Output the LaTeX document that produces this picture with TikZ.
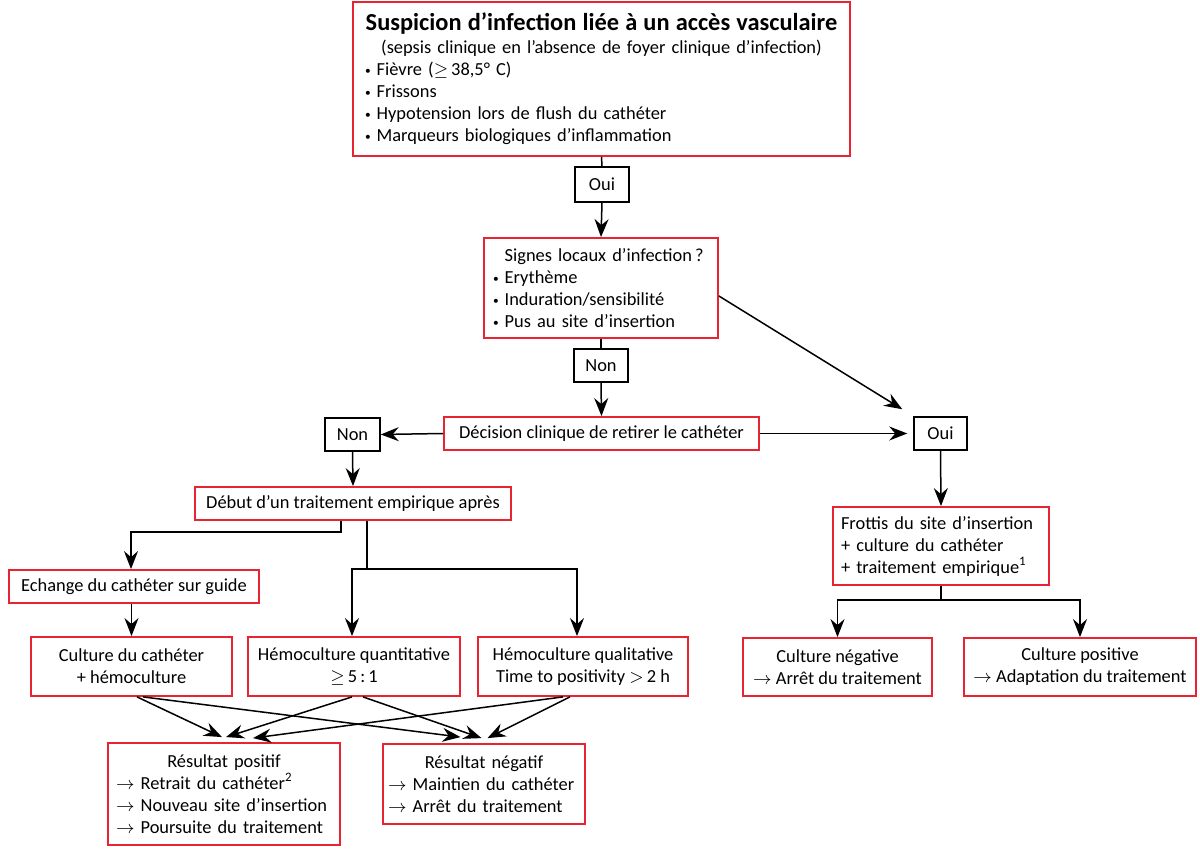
\documentclass[tikz,border=0pt]{standalone}
\usepackage{graphicx}
\usepackage{fontspec}
\setmainfont{Carlito}
\usetikzlibrary{arrows.meta,calc}
\definecolor{boxred}{RGB}{232,35,50}
\newcommand\bul{\raisebox{0.6pt}{\scalebox{0.62}{•}}\hspace{3pt}}
\begin{document}
\begin{tikzpicture}[x=0.5pt,y=-0.5pt,
  font=\fontsize{9.2}{11}\selectfont,
  rbox/.style={draw=boxred,line width=0.9pt,inner sep=0pt},
  bbox/.style={draw=black,line width=0.75pt,inner sep=0pt},
  arr/.style={-{Stealth[length=9pt,width=7pt,inset=3pt]},line width=0.75pt},
  ln/.style={line width=0.75pt}]
\useasboundingbox (0,0) rectangle (1200,849);

% boxes
\node[rbox,minimum width=248.5pt,minimum height=77pt,text width=236.5pt,align=left] (top) at (601.5,79)
 {\makebox[\linewidth][c]{\fontsize{12.2}{13}\selectfont\bfseries Suspicion d’infection liée à un accès vasculaire}\\[0.5pt]
  \makebox[\linewidth][c]{(sepsis clinique en l’absence de foyer clinique d’infection)}\\
  \bul Fièvre ($\geq$\,38,5° C)\\
  \bul Frissons\\
  \bul Hypotension lors de flush du cathéter\\
  \bul Marqueurs biologiques d’inflammation};

\node[bbox,minimum width=27pt,minimum height=17.5pt] (oui1) at (602,184.5) {Oui};

\node[rbox,minimum width=117pt,minimum height=50pt,text width=108pt,align=left] (sig) at (601,288)
 {\phantom{\bul}Signes locaux d’infection\,?\\
  \bul Erythème\\
  \bul Induration/sensibilité\\
  \bul Pus au site d’insertion};

\node[bbox,minimum width=27pt,minimum height=16.5pt] (non1) at (601,365.5) {Non};

\node[rbox,minimum width=157.5pt,minimum height=16.5pt] (dec) at (601.5,433.5) {Décision clinique de retirer le cathéter};
\node[bbox,minimum width=27.5pt,minimum height=16.5pt] (non2) at (352.5,434.5) {Non};
\node[bbox,minimum width=26.5pt,minimum height=16.5pt] (oui2) at (940.5,433.5) {Oui};

\node[rbox,minimum width=158pt,minimum height=16.5pt] (deb) at (353,503.5) {Début d’un traitement empirique après};
\node[rbox,minimum width=125pt,minimum height=16.5pt] (ech) at (134,586.5) {Echange du cathéter sur guide};

\node[rbox,minimum width=100.5pt,minimum height=29.5pt,align=center] (cul) at (131.5,666.5) {Culture du cathéter\\+ hémoculture};
\node[rbox,minimum width=106pt,minimum height=29.5pt,align=center] (hq) at (354,666.5) {Hémoculture quantitative\\$\geq$\,5\,:\,1};
\node[rbox,minimum width=105pt,minimum height=29.5pt,align=center] (hql) at (583,666.5) {Hémoculture qualitative\\Time to positivity $>$\,2 h};

\node[rbox,minimum width=116pt,minimum height=51pt,text width=108pt,align=left] (pos) at (224,794)
 {\makebox[\linewidth][c]{Résultat positif}\\
  $\rightarrow$ Retrait du cathéter\textsuperscript{2}\\
  $\rightarrow$ Nouveau site d’insertion\\
  $\rightarrow$ Poursuite du traitement};
\node[rbox,minimum width=101pt,minimum height=40pt,text width=96pt,align=left] (neg) at (484,784)
 {\makebox[\linewidth][c]{Résultat négatif}\\
  $\rightarrow$ Maintien du cathéter\\
  $\rightarrow$ Arrêt du traitement};

\node[rbox,minimum width=108pt,minimum height=39pt,text width=100pt,align=left] (fro) at (941,546)
 {Frottis du site d’insertion\\
  + culture du cathéter\\
  + traitement empirique\textsuperscript{1}};
\node[rbox,minimum width=94.5pt,minimum height=29pt,align=center] (cneg) at (837.5,667) {Culture négative\\$\rightarrow$ Arrêt du traitement};
\node[rbox,minimum width=116pt,minimum height=29pt,align=center] (cpos) at (1080,667) {Culture positive\\$\rightarrow$ Adaptation du traitement};

% connectors
\draw[ln] (top.south) -- (oui1.north);
\draw[arr] (oui1.south) -- (sig.north);
\draw[ln] (sig.south) -- (non1.north);
\draw[arr] (non1.south) -- (dec.north);
\draw[arr] ([yshift=-4pt]sig.east) -- ([xshift=-5.5pt,yshift=3.5pt]oui2.north west);
\draw[arr] (dec.west) -- (non2.east);
\draw[arr] (dec.east) -- ([xshift=-3pt]oui2.west);
\draw[arr] (non2.south) -- (deb.north);
\draw[arr] ([xshift=-6pt]deb.south) -- ++(0,11) -| ([xshift=-1.5pt]ech.north);
\draw[ln] ([xshift=7pt]deb.south) -- ++(0,48) coordinate (jn);
\draw[arr] (jn) -| ([xshift=-1pt]hq.north);
\draw[arr] (jn) -| ([xshift=-3pt]hql.north);
\draw[arr] (cul.north |- ech.south) -- (cul.north);

\draw[arr] ($(cul.south)+(5.5,0)$) -- ($(pos.north)+(-2,-5)$);
\draw[arr] ($(cul.south)+(11.5,0)$) -- ($(neg.north)+(-23.5,-6)$);
\draw[arr] ($(hq.south)+(-2,0)$) -- ($(pos.north)+(2,-5)$);
\draw[arr] ($(hq.south)+(9,0)$) -- ($(neg.north)+(-2.5,-5)$);
\draw[arr] ($(hql.south)+(-20,0)$) -- ($(pos.north)+(29,-4)$);
\draw[arr] ($(hql.south)+(-13,0)$) -- ($(neg.north)+(3.5,-5)$);

\draw[arr] (oui2.south) -- (fro.north);
\draw[ln] (fro.south) -- ++(0,14) coordinate (jr);
\draw[arr] (jr) -| (cneg.north);
\draw[arr] (jr) -| (cpos.north);
\end{tikzpicture}
\end{document}
